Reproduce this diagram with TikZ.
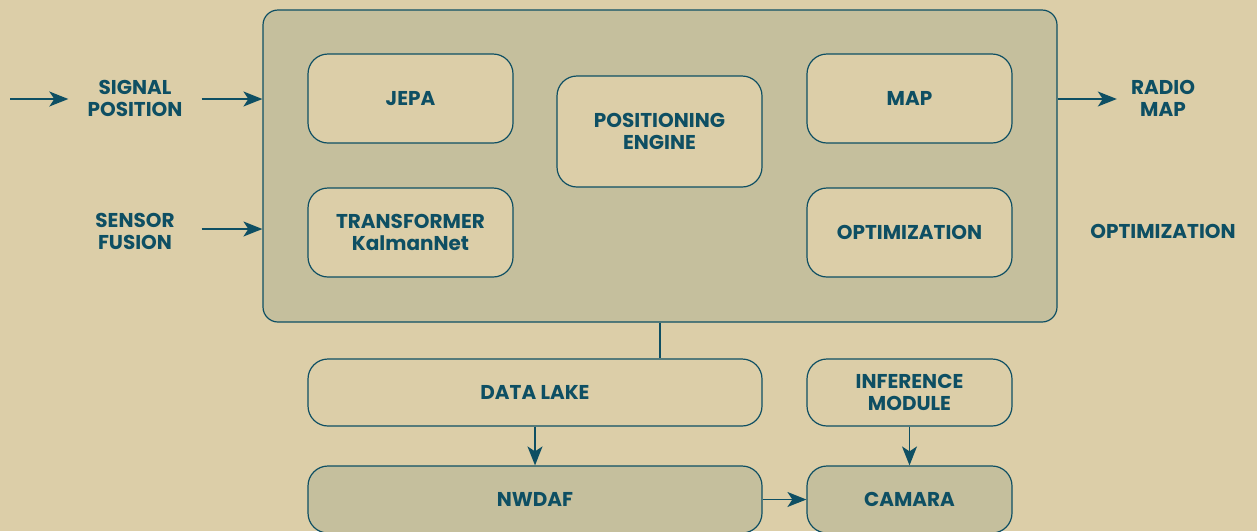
\documentclass[tikz,border=0pt]{standalone}
\usepackage{fontspec}
\setmainfont{Poppins}
\usetikzlibrary{arrows.meta,positioning}

\definecolor{bgsand}{HTML}{DCCEA8}
\definecolor{boxolive}{HTML}{C5BF9D}
\definecolor{inkteal}{HTML}{0E4F63}

\tikzset{
  lbl/.style={text=inkteal, align=center, inner sep=0pt, font=\bfseries\fontsize{20}{22}\selectfont},
  modbox/.style={lbl, draw=inkteal, fill=bgsand, line width=1.2pt, rounded corners=20pt,
    minimum width=205pt, minimum height=89pt},
  flowarr/.style={-{Stealth[length=19pt, width=15pt, inset=5pt]}, draw=inkteal, line width=1.6pt}
}

\begin{document}
\begin{tikzpicture}[x=1pt, y=-1pt]
  % 背景
  \fill[bgsand] (0,0) rectangle (1257,531);
  \useasboundingbox (0,0) rectangle (1257,531);

  % 主框
  \node[draw=inkteal, fill=boxolive, line width=1.2pt, rounded corners=15pt,
    minimum width=794pt, minimum height=312pt] (core) at (660,166) {};

  % 内部模块
  \node[modbox] (jepa) at (410.5,98.5) {JEPA};
  \node[modbox, minimum height=111pt] (engine) at (659.5,131.5) {POSITIONING\\ENGINE};
  \node[modbox] (map) at (909.5,98.5) {MAP};
  \node[modbox] (kalman) at (410.5,232.5) {TRANSFORMER\\KalmanNet};
  \node[modbox] (optin) at (909.5,232.5) {OPTIMIZATION};

  % 下方模块
  \node[modbox, minimum width=454pt, minimum height=67pt] (lake) at (535,392.5) {DATA LAKE};
  \node[modbox, minimum height=67pt] (infer) at (909.5,392.5) {INFERENCE\\MODULE};
  \node[modbox, fill=boxolive, minimum width=454pt, minimum height=67pt] (nwdaf) at (535,499.5) {NWDAF};
  \node[modbox, fill=boxolive, minimum height=67pt] (camara) at (909.5,499.5) {CAMARA};

  % 外部标注
  \node[lbl, minimum width=133pt] (sigpos) at (135,98) {SIGNAL\\POSITION};
  \node[lbl, minimum width=133pt] (sensor) at (135,231) {SENSOR\\FUSION};
  \node[lbl, minimum width=92pt] (radio) at (1163,98) {RADIO\\MAP};
  \node[lbl] (optout) at (1163,231) {OPTIMIZATION};
  \coordinate (src) at (10,99);

  % 连线
  \draw[flowarr] (src) -- (sigpos.west |- src);
  \draw[flowarr] (sigpos.east |- src) -- (core.west |- src);
  \draw[flowarr] (sensor.east |- 0,229) -- (core.west |- 0,229);
  \draw[flowarr] (core.east |- src) -- (radio.west |- src);
  \draw[inkteal, line width=1.6pt] (core.south) -- (core.south |- lake.north);
  \draw[flowarr] (lake.south) -- (nwdaf.north);
  \draw[flowarr] (infer.south) -- (camara.north);
  \draw[flowarr] (nwdaf.east) -- (camara.west);
\end{tikzpicture}
\end{document}
